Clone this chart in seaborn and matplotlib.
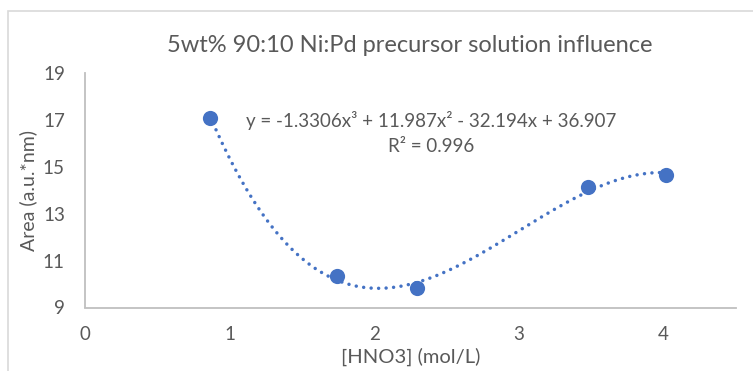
import numpy as np
import pandas as pd
import matplotlib
matplotlib.use("Agg")
import matplotlib.pyplot as plt
import seaborn as sns
from matplotlib.patches import Rectangle

# data
hno3 = [0.864, 1.741, 2.296, 3.476, 4.016]
area = [17.10, 10.36, 9.82, 14.15, 14.67]
trend_coef = [-1.3306, 11.987, -32.194, 36.907]
x_ticks = [0, 1, 2, 3, 4]
y_ticks = [9, 11, 13, 15, 17, 19]
title = "5wt% 90:10 Ni:Pd precursor solution influence"
xlabel = "[HNO3] (mol/L)"
ylabel = "Area (a.u.*nm)"
eq_text = "y = -1.3306x³ + 11.987x² - 32.194x + 36.907"
r2_text = "R² = 0.996"

sns.set_theme(style="white")
plt.rcParams['font.family'] = ['Lato', 'DejaVu Sans']

blue = "#4472C4"
grey_txt = "#595959"
grey_ax = "#BFBFBF"

fig = plt.figure(figsize=(7.53, 3.71), dpi=100)
ax = fig.add_axes([85/753, 1-307.5/371, (736-85)/753, (307.5-73.5)/371])

df = pd.DataFrame({"x": hno3, "y": area})
xs = np.linspace(min(hno3), max(hno3), 300)
trend = pd.DataFrame({"x": xs, "y": np.polyval(trend_coef, xs)})
sns.lineplot(data=trend, x="x", y="y", ax=ax, color=blue, lw=2.5,
             linestyle=(0, (0.01, 2.15)), dash_capstyle="round", zorder=2)
sns.scatterplot(data=df, x="x", y="y", ax=ax, color=blue, s=120,
                edgecolor=blue, linewidth=0, zorder=3)

ax.set_xlim(0, 4.5)
ax.set_ylim(9, 19)
ax.set_xticks(x_ticks)
ax.set_yticks(y_ticks)
ax.tick_params(axis="both", length=0, labelsize=13.5, colors=grey_txt)
ax.tick_params(axis="x", pad=13)
ax.tick_params(axis="y", pad=14.5)
for s in ["top", "right"]:
    ax.spines[s].set_visible(False)
for s in ["left", "bottom"]:
    ax.spines[s].set_color(grey_ax)
    ax.spines[s].set_linewidth(1.3)
ax.grid(False)
ax.set_xlabel(xlabel, fontsize=14.5, color=grey_txt, labelpad=4)
ax.set_ylabel(ylabel, fontsize=14, color=grey_txt, labelpad=4)

fig.text(410/753, 1-46/371, title, ha="center", va="center", fontsize=17, color=grey_txt)
fig.text(431/753, 1-121/371, eq_text, ha="center", va="center", fontsize=13.5, color=grey_txt)
fig.text(431/753, 1-146/371, r2_text, ha="center", va="center", fontsize=13.5, color=grey_txt)

fig.patches.append(Rectangle((8/753, -0.1), 1.2, 1 - 11/371 + 0.1, transform=fig.transFigure,
                             fill=False, edgecolor="#D9D9D9", lw=1.2))

fig.savefig("out.png", dpi=100)
